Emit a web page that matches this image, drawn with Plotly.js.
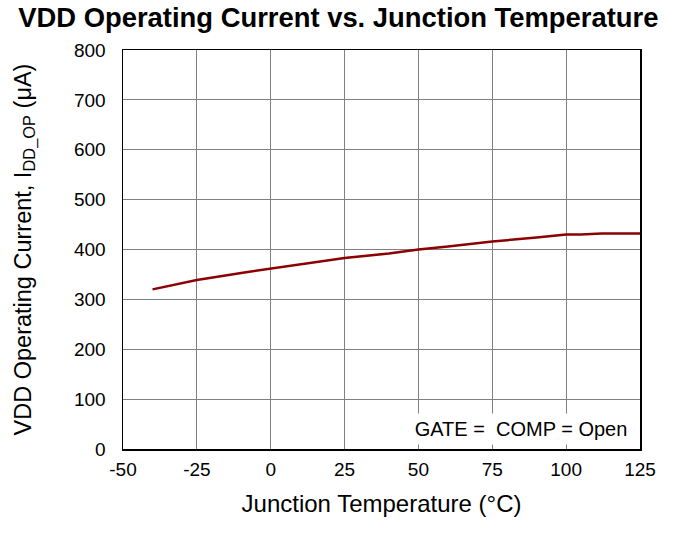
<!DOCTYPE html>
<html>
<head>
<meta charset="utf-8">
<script src="https://cdn.plot.ly/plotly-3.0.1.min.js"></script>
<style>html,body{margin:0;padding:0;background:#fff;}#chart{width:674px;height:534px;}</style>
</head>
<body>
<div id="chart"></div>
<script>
const temperature = [-40, -30, -25, -10, 0, 10, 25, 40, 50, 60, 75, 90, 100, 105, 112, 125];
const current = [320, 333, 339, 353, 362, 371, 383, 392, 400, 406, 416, 424, 430, 430, 432, 432];
const xTicks = [-50, -25, 0, 25, 50, 75, 100, 125];
const yTicks = [0, 100, 200, 300, 400, 500, 600, 700, 800];
const noteText = "GATE =\u00a0 COMP = Open";

const font = "Liberation Sans, Arial, sans-serif";
const data = [{
  x: temperature, y: current, type: 'scatter', mode: 'lines',
  line: {color: '#8b0000', width: 2.5}, hoverinfo: 'skip'
}];
const layout = {
  width: 674, height: 534,
  margin: {l: 123, r: 34, t: 50, b: 85},
  paper_bgcolor: '#fff', plot_bgcolor: '#fff',
  showlegend: false,
  font: {family: font, color: '#000'},
  title: {text: '<b>VDD Operating Current vs. Junction Temperature</b>', font: {size: 27.4, family: font, color: '#000'}, x: 0.502, xanchor: 'center', y: 0.967, yanchor: 'middle'},
  xaxis: {
    range: [-50, 125], tickvals: xTicks, ticktext: xTicks.map(String),
    showgrid: true, gridcolor: '#808080', gridwidth: 1,
    showline: true, linecolor: '#000', linewidth: 1.5, mirror: true,
    zeroline: false, ticks: '', tickfont: {size: 19, family: font},
    ticklabelstandoff: 3,
    title: {text: 'Junction Temperature (°C)', font: {size: 24, family: font}, standoff: 16}
  },
  yaxis: {
    range: [0, 800], tickvals: yTicks, ticktext: yTicks.map(String),
    showgrid: true, gridcolor: '#808080', gridwidth: 1,
    showline: true, linecolor: '#000', linewidth: 1.5, mirror: true,
    zeroline: false, ticks: '', tickfont: {size: 19, family: font},
    ticklabelstandoff: 12,
    title: {text: 'VDD Operating Current, I<sub>DD_OP</sub> (μA)', font: {size: 23.5, family: font}, standoff: 36}
  },
  annotations: [{
    xref: 'paper', yref: 'paper', x: 1, y: 0, xanchor: 'right', yanchor: 'bottom',
    xshift: -1, yshift: 4,
    text: noteText, showarrow: false, bgcolor: '#fff',
    font: {size: 20, family: font, color: '#000'},
    width: 230, height: 26, borderpad: 2, align: 'center'
  }]
};
Plotly.newPlot('chart', data, layout, {displayModeBar: false, staticPlot: true});
</script>
</body>
</html>
